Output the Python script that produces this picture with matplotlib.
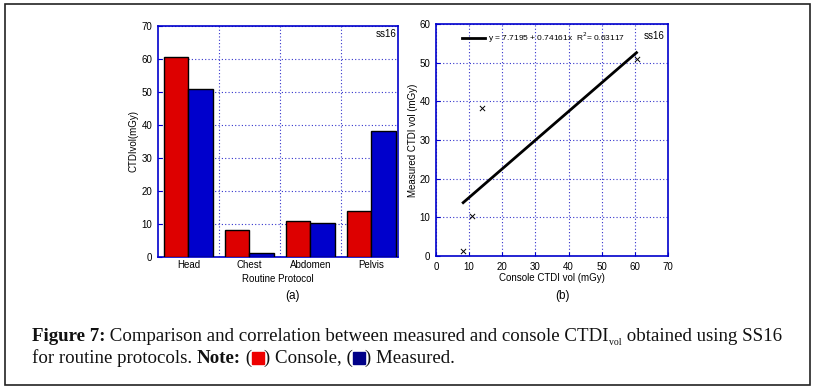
import numpy as np
import matplotlib
matplotlib.use("Agg")
import matplotlib.pyplot as plt
from matplotlib.patches import Rectangle

# Données
protocoles = ["Head", "Chest", "Abdomen", "Pelvis"]
console = [60.5, 8.2, 11.0, 14.0]
mesure = [51.0, 1.2, 10.4, 38.3]

# Régression : y = a + b x
a_reg = 7.7195
b_reg = 0.74161
r2 = 0.63117

plt.rcParams['font.family'] = ['Liberation Sans', 'DejaVu Sans']
plt.rcParams['font.size'] = 7

fig = plt.figure(figsize=(8.16, 3.91), dpi=100)
W, H = 816, 391

def px(x0, y0, x1, y1):
    # rectangle en pixels (haut-gauche origine) -> coordonnées figure
    return [x0 / W, 1 - y1 / H, (x1 - x0) / W, (y1 - y0) / H]

bleu_axe = "#0000cc"
grille = dict(color="#3333cc", linestyle=(0, (1, 2)), linewidth=0.8)

# ---- (a) diagramme en barres
ax1 = fig.add_axes(px(158, 26, 398, 257))
x = np.arange(len(protocoles))
larg = 0.4
ax1.bar(x - larg / 2, console, larg, color="#dd0000", edgecolor="black", linewidth=1, zorder=3)
ax1.bar(x + larg / 2, mesure, larg, color="#0000cc", edgecolor="black", linewidth=1, zorder=3)
ax1.set_xlim(-0.5, 3.44)
ax1.set_ylim(0, 70)
ax1.set_yticks(range(0, 71, 10))
ax1.set_xticks(x)
ax1.set_xticklabels(protocoles)
ax1.set_xticks(x[:-1] + 0.5, minor=True)
ax1.grid(True, which="minor", axis="x", **grille)
ax1.grid(True, which="major", axis="y", **grille)
ax1.set_axisbelow(True)
ax1.tick_params(which="both", direction="in", length=3, color=bleu_axe, labelsize=7, pad=4)
ax1.tick_params(axis="x", which="major", pad=2)
ax1.tick_params(axis="x", which="minor", length=0)
ax1.set_ylabel("CTDIvol(mGy)", fontsize=7, labelpad=2)
ax1.set_xlabel("Routine Protocol", fontsize=7, labelpad=3)
ax1.text(0.995, 0.985, "ss16", transform=ax1.transAxes, ha="right", va="top", fontsize=7)
for s in ax1.spines.values():
    s.set_color(bleu_axe)
    s.set_linewidth(1.2)

# ---- (b) corrélation
ax2 = fig.add_axes(px(436, 24, 668, 256))
ax2.scatter(console, mesure, marker="x", color="black", s=14, linewidths=0.7, zorder=3)
xl = np.array([min(console), max(console)])
ax2.plot(xl, a_reg + b_reg * xl, color="black", linewidth=2,
         label="y = 7.7195 + 0.74161x  R$^2$= %.5f" % r2, zorder=3)
ax2.set_xlim(0, 70)
ax2.set_ylim(0, 60)
ax2.set_xticks(range(0, 71, 10))
ax2.set_yticks(range(0, 61, 10))
ax2.grid(True, **grille)
ax2.set_axisbelow(True)
ax2.tick_params(direction="in", length=3, color=bleu_axe, labelsize=7, pad=4)
ax2.set_xlabel("Console CTDI vol (mGy)", fontsize=7, labelpad=1)
ax2.set_ylabel("Measured CTDI vol (mGy)", fontsize=7, labelpad=1)
ax2.text(0.985, 0.97, "ss16", transform=ax2.transAxes, ha="right", va="top", fontsize=7)
ax2.legend(loc="upper left", bbox_to_anchor=(26 / 232, 1 - 7 / 232), frameon=False, fontsize=6,
           borderpad=0, borderaxespad=0, handlelength=2.76, handletextpad=0.4)
for s in ax2.spines.values():
    s.set_color(bleu_axe)
    s.set_linewidth(1.2)

fig.text(292 / W, 1 - 296 / H, "(a)", ha="center", va="center", fontsize=8.5)
fig.text(563 / W, 1 - 296 / H, "(b)", ha="center", va="center", fontsize=8.5)

# cadre extérieur
fig.patches.append(Rectangle((5 / W, 1 - 385 / H), 805 / W, 381 / H, transform=fig.transFigure,
                             fill=False, edgecolor="#222222", linewidth=1.2))

# ---- légende de la figure (texte placé morceau par morceau)
serif = ['Liberation Serif', 'DejaVu Serif']
taille = 13.6
rend = fig.canvas.get_renderer()

def morceau(xp, yp, texte, gras=False):
    t = fig.text(xp / W, 1 - yp / H, texte, fontsize=taille, family=serif,
                 fontweight="bold" if gras else "normal", va="baseline", color="#111111")
    bb = t.get_window_extent(renderer=rend)
    return bb.x1

def carre(xp, yp, couleur):
    fig.patches.append(Rectangle((xp / W, 1 - (yp + 1) / H), 12 / W, 12 / H,
                                 transform=fig.transFigure, color=couleur))
    return xp + 12

y1, y2 = 341, 363
xp = morceau(32, y1, "Figure 7:", gras=True)
xp = morceau(xp, y1, " Comparison and correlation between measured and console CTDI")
xp = fig.text(xp / W, 1 - (y1 + 4) / H, "vol", fontsize=7, family=serif, va="baseline",
              color="#111111").get_window_extent(renderer=rend).x1
morceau(xp, y1, " obtained using SS16")

xp = morceau(32, y2, "for routine protocols. ")
xp = morceau(xp, y2, "Note:", gras=True)
xp = morceau(xp, y2, " (")
xp = carre(xp, y2, "#ee0000")
xp = morceau(xp, y2, ") Console, (")
xp = carre(xp, y2, "#000088")
morceau(xp, y2, ") Measured.")

fig.savefig("out.png", dpi=100)
